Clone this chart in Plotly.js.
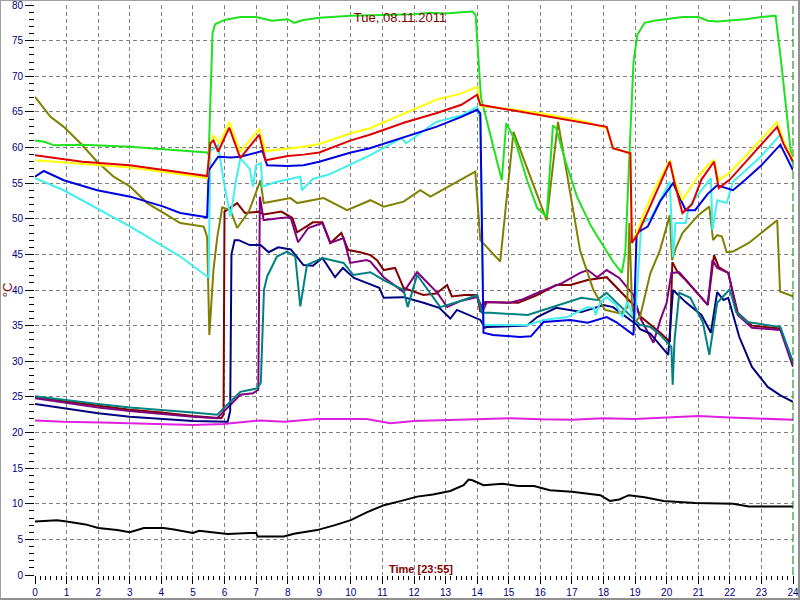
<!DOCTYPE html>
<html>
<head>
<meta charset="utf-8">
<script src="https://cdn.plot.ly/plotly-3.0.1.min.js"></script>
<style>
html,body{margin:0;padding:0;background:#fff;}
#wrap{position:relative;width:800px;height:600px;}
#chart{width:800px;height:600px;}
#frame{position:absolute;left:0;top:0;width:797px;height:597px;border-left:1px solid #a0a0a0;border-top:1px solid #a0a0a0;border-right:2px solid #909090;border-bottom:2px solid #909090;pointer-events:none;}
</style>
</head>
<body>
<div id="wrap"><div id="chart"></div><div id="frame"></div></div>
<script>
// ---- chart texts ----
const chartTitle = "Tue, 08.11.2011";
const xTitle = "Time [23:55]";
const yTitle = "°C";

// ---- series data (hour of day, temperature °C) ----
const greenT = [0,0.3,0.6,1.5,3.0,4.6,5.45,5.5,5.62,5.7,6.0,6.5,7.0,7.5,8.0,8.2,8.5,9.0,10.0,11.0,12.0,12.5,13.0,13.5,13.85,13.95,14.12,14.78,14.92,15.2,15.58,15.9,16.2,16.4,16.5,16.8,17.16,17.6,18.0,18.3,18.58,18.69,18.85,18.95,19.07,19.3,19.6,20.0,20.5,21.0,21.3,21.6,22.0,22.5,23.0,23.45,23.65,23.96];
const greenV = [61.0,60.8,60.3,60.4,60.1,59.6,59.3,59.0,76.0,77.3,77.9,78.3,78.3,77.8,78.0,77.5,77.9,78.2,78.5,78.6,78.7,78.9,78.8,79.0,79.1,78.6,67.0,55.4,63.4,61.0,55.4,51.5,50.3,63.1,62.7,58.0,53.1,49.0,46.1,44.0,42.4,45.2,62.0,72.0,75.8,77.5,77.8,78.0,78.3,78.3,77.8,77.7,77.8,78.0,78.3,78.5,71.0,58.2];

const yellowT = [0,1.5,3.0,4.5,5.45,5.55,5.65,5.85,6.15,6.5,6.8,7.1,7.3,8.0,8.5,9.0,10.0,10.6,11.0,11.7,12.7,13.5,14.0,14.1,15.0,16.0,17.0,17.5,18.1,18.3,18.85,18.9,19.05,19.3,19.6,19.9,20.1,20.25,20.5,20.7,21.0,21.3,21.5,21.65,22.0,22.5,23.0,23.5,23.7,24.0];
const yellowV = [58.2,57.7,57.2,56.3,55.7,60.5,61.7,60.6,63.6,59.4,61.0,62.6,59.5,59.8,60.1,60.5,62.0,62.7,63.5,64.8,66.7,67.6,68.5,65.8,65.4,64.8,64.0,63.5,62.7,59.9,59.2,46.6,48.0,51.0,54.0,56.5,58.2,55.5,52.6,54.0,56.0,57.5,58.2,55.4,56.5,58.8,61.2,63.6,61.0,58.2];

const redT = [0,1.5,3.0,4.5,5.45,5.55,5.65,5.8,6.15,6.5,7.1,7.3,8.0,8.5,9.0,10.0,10.6,11.7,12.7,13.5,14.0,14.1,15.0,16.0,17.0,18.1,18.3,18.85,18.9,19.1,19.4,19.7,20.1,20.25,20.5,20.8,21.1,21.5,21.65,22.0,22.5,23.0,23.5,23.7,24.0];
const redV = [58.9,58.0,57.5,56.6,56.0,60.6,61.0,59.4,62.8,58.5,61.8,58.2,58.8,59.0,59.3,61.0,61.8,63.5,64.8,66.0,67.4,66.0,65.3,64.6,63.8,62.9,59.9,59.2,46.6,48.0,51.0,54.0,58.0,55.0,50.8,52.0,55.5,58.0,54.3,55.5,58.0,60.5,62.9,60.5,58.0];

const blueT = [0,0.28,0.91,1.97,3.02,4.07,4.6,5.45,5.5,5.8,6.2,6.5,7.2,7.35,8.0,8.5,9.0,10.0,10.6,11.7,12.7,13.5,14.0,14.1,14.2,14.5,15.35,15.7,16.1,16.95,17.5,18.1,18.4,18.95,19.05,19.4,19.8,20.2,20.6,20.9,21.3,21.6,22.1,22.5,23.0,23.6,24.0];
const blueV = [55.9,56.7,55.4,54.0,53.1,51.7,50.8,50.2,56.8,58.7,58.6,58.7,59.5,57.5,57.4,57.5,58.0,59.3,59.9,61.5,62.9,64.3,65.3,64.8,34.0,33.7,33.4,33.5,35.5,35.8,35.4,36.2,35.5,33.7,48.0,48.9,52.5,55.0,51.2,51.2,53.5,54.7,54.0,55.5,57.5,60.4,56.8];

const cyanT = [0,0.91,3.02,4.6,5.45,5.5,5.55,5.8,5.97,6.19,6.35,6.5,6.8,6.9,7.0,7.15,7.2,7.35,7.66,8.0,8.4,8.45,8.8,9.3,10.3,10.6,11.6,11.75,12.7,13.5,14.0,14.1,14.2,15.3,15.6,16.1,16.85,17.5,17.7,17.75,17.9,18.1,18.4,18.6,18.75,19.0,19.2,19.5,20.1,20.2,20.28,20.6,20.7,21.4,21.45,21.6,21.9,22.1,22.5,23.0,23.6,24.0];
const cyanV = [55.7,54.0,48.9,44.7,41.9,41.8,59.5,60.3,55.4,50.3,55.0,58.5,57.0,54.5,57.5,57.8,54.5,54.7,55.2,55.5,55.9,54.0,55.6,56.2,58.2,58.9,61.3,60.6,63.6,64.5,65.7,64.0,35.1,35.1,35.1,35.8,36.2,37.6,37.5,36.5,38.3,39.0,37.9,36.2,38.3,35.8,49.4,50.1,55.2,44.6,49.4,49.4,51.7,55.7,48.4,52.6,52.2,55.2,56.8,58.8,61.8,57.8];

const oliveT = [0,0.49,0.91,1.44,1.97,2.49,3.02,3.55,4.08,4.6,5.34,5.45,5.52,5.65,5.77,5.93,6.19,6.4,6.77,7.14,7.24,8.09,8.3,9.14,9.88,10.62,11.04,11.67,12.2,12.52,13.94,14.1,14.73,15.15,16.2,16.56,17.26,17.68,18.05,18.53,18.75,18.82,18.9,19.0,19.16,19.48,19.79,20.1,20.17,20.3,20.5,21.0,21.35,21.47,21.6,21.75,21.9,22.1,22.6,23.0,23.5,23.59,24.0];
const oliveV = [67.1,64.3,62.9,60.6,58.0,55.9,54.5,52.2,50.8,49.4,48.9,47.5,33.7,42.8,47.4,51.6,51.2,48.7,51.0,55.4,52.2,52.9,52.2,52.9,51.2,52.6,51.7,52.4,54.0,53.1,56.6,47.0,44.0,62.2,49.8,63.6,45.5,40.0,37.2,36.7,37.5,49.4,38.0,35.5,36.3,42.3,45.6,50.5,44.2,46.0,48.0,50.5,51.7,47.0,47.7,47.5,45.3,45.4,46.6,48.0,49.8,39.8,39.1];

const maroonT = [0,1,2,3,4,5,5.9,5.97,6.0,6.4,6.65,7.1,7.24,7.8,8.15,8.3,8.8,9.1,9.35,9.7,9.92,10.3,10.62,10.83,11.04,11.4,11.67,12.3,12.7,13.05,13.2,13.6,14.0,14.1,14.25,15.3,15.9,16.5,16.95,17.5,18.1,18.5,19.06,19.16,19.48,19.8,20.1,20.18,20.35,20.6,21.3,21.5,21.65,21.95,22.25,22.7,23.6,24.0];
const maroonV = [24.9,24.3,23.7,23.2,22.8,22.3,22.0,22.5,51.0,52.2,50.8,51.0,50.6,51.0,50.1,48.1,49.5,49.5,46.6,48.0,45.6,45.3,44.9,44.2,42.8,43.1,40.3,39.3,39.5,40.7,39.1,39.3,39.3,36.9,38.3,38.2,39.3,40.7,40.7,41.4,41.8,40.0,37.4,36.3,35.1,34.0,32.7,43.9,42.5,41.4,37.9,44.9,43.2,42.4,36.8,35.0,34.6,29.5];

const purpleT = [0,1,2,3,4,5,5.77,6.5,6.9,7.07,7.12,7.24,7.77,8.09,8.33,8.65,9.1,9.35,9.77,9.98,10.5,10.62,11.04,11.67,12.1,12.74,13.05,13.5,14.0,14.2,14.3,15.05,15.45,15.9,16.7,17.26,17.5,17.8,18.1,18.5,18.95,19.16,19.58,19.8,20.0,20.15,20.4,21.3,21.45,21.6,21.95,22.25,22.7,23.6,24.0];
const purpleV = [24.8,24.1,23.5,23.0,22.6,22.2,22.0,25.3,25.5,26.0,53.1,49.8,50.1,50.2,46.7,48.7,49.4,46.6,47.3,43.8,44.2,44.0,41.8,39.7,42.5,39.6,37.6,38.5,39.0,37.2,38.3,38.2,38.7,39.6,41.0,42.4,42.8,41.8,42.8,41.7,39.3,36.1,32.6,35.8,38.2,42.4,42.5,37.9,44.2,43.1,42.4,36.5,34.7,34.4,29.2];

const navyT = [0,1,2,3,4,5,6.1,6.18,6.22,6.32,6.45,6.8,7.14,7.4,7.7,8.1,8.5,8.8,9.1,9.5,9.75,10.1,10.5,10.9,11.04,11.67,12.3,12.8,13.15,13.36,14.1,14.25,14.31,15.58,15.9,16.5,17.3,18.0,18.3,19.06,19.16,19.48,20.05,20.2,20.6,21.1,21.4,21.6,21.8,21.95,22.3,22.7,23.2,23.6,24.0];
const navyV = [24.0,23.3,22.7,22.2,21.9,21.6,21.5,23.0,45.0,47.0,47.0,46.3,46.3,45.3,46.0,45.7,43.5,43.4,44.5,41.8,43.1,41.7,41.0,40.3,38.9,39.0,38.2,37.5,36.0,37.2,35.8,34.7,34.8,35.0,36.2,37.5,36.9,37.9,37.6,35.1,34.5,33.9,30.9,40.0,38.3,36.5,34.0,39.7,38.6,38.9,33.4,29.2,26.4,25.2,24.3];

const tealT = [0,1,2,3,4,5,5.77,6.5,7.04,7.15,7.25,7.35,7.66,7.98,8.24,8.4,8.61,9.1,9.77,10.08,10.62,11.04,11.67,11.8,12.1,12.45,12.83,13.5,14.0,14.15,14.4,15.6,16.1,17.3,17.8,18.1,18.4,19.06,19.16,19.48,19.8,20.15,20.19,20.25,20.4,20.75,21.15,21.35,21.6,22.0,22.2,22.55,23.6,24.0];
const tealV = [25.1,24.5,24.0,23.5,23.2,22.8,22.5,25.7,26.2,27.0,40.0,41.9,44.7,45.4,44.7,37.7,43.5,44.5,43.8,42.1,42.5,41.4,40.0,37.6,42.1,40.0,37.6,38.5,39.3,36.8,36.8,36.5,37.2,38.9,38.6,39.6,38.3,35.5,35.1,34.8,33.7,32.0,26.7,33.0,39.6,38.9,35.4,30.9,38.2,40.1,36.9,35.5,34.8,29.9];

const magentaT = [0,0.9,2.1,3.0,5.0,5.97,7.14,7.9,8.93,10.5,11.25,12.0,13.15,14.3,15.05,16.0,17.0,18.0,19.0,20.0,21.0,22.0,23.0,24.0];
const magentaV = [21.7,21.5,21.4,21.3,21.05,21.2,21.7,21.5,21.9,21.9,21.3,21.6,21.75,21.9,22.0,21.85,21.8,22.0,21.9,22.1,22.3,22.1,21.9,21.8];

const blackT = [0,0.5,0.7,1.0,1.35,1.6,2.0,2.3,2.6,3.0,3.45,4.07,4.4,5.0,5.2,5.6,6.1,6.8,7.0,7.05,7.88,8.2,8.93,9.5,10.0,10.5,11.05,11.6,12.1,12.6,13.15,13.57,13.73,13.85,14.2,14.8,15.3,15.8,16.3,17.0,17.9,18.2,18.5,18.8,19.3,19.9,20.9,22.1,22.6,24.0];
const blackV = [7.5,7.6,7.7,7.5,7.3,7.1,6.6,6.5,6.3,6.0,6.6,6.6,6.4,5.9,6.2,6.0,5.75,5.9,5.9,5.4,5.4,5.8,6.3,7.0,7.7,8.8,9.8,10.4,11.0,11.3,11.8,12.6,13.4,13.3,12.6,12.8,12.5,12.5,11.9,11.7,11.2,10.4,10.6,11.2,10.9,10.4,10.1,10.0,9.6,9.6];

const xTickVals = [0,1,2,3,4,5,6,7,8,9,10,11,12,13,14,15,16,17,18,19,20,21,22,23,24];
const yTickVals = [0,5,10,15,20,25,30,35,40,45,50,55,60,65,70,75,80];

const seriesList = [
  {t: blackT,   v: blackV,   c: '#000000'},
  {t: magentaT, v: magentaV, c: '#e020e0'},
  {t: maroonT,  v: maroonV,  c: '#800000'},
  {t: purpleT,  v: purpleV,  c: '#800080'},
  {t: navyT,    v: navyV,    c: '#000080'},
  {t: tealT,    v: tealV,    c: '#008080'},
  {t: oliveT,   v: oliveV,   c: '#808000'},
  {t: cyanT,    v: cyanV,    c: '#40f0f0'},
  {t: blueT,    v: blueV,    c: '#0000e0'},
  {t: greenT,   v: greenV,   c: '#20e020'},
  {t: yellowT,  v: yellowV,  c: '#ffff00'},
  {t: redT,     v: redV,     c: '#e00000'}
];

const traces = seriesList.map(s => ({
  x: s.t, y: s.v, type: 'scatter', mode: 'lines',
  line: {color: s.c, width: 2}, hoverinfo: 'skip', showlegend: false
}));

const fontFam = '"Liberation Sans", Arial, sans-serif';
const layout = {
  width: 800, height: 600,
  margin: {l: 35, r: 7, t: 5, b: 25, pad: 0},
  paper_bgcolor: '#ffffff', plot_bgcolor: '#ffffff',
  font: {family: fontFam, size: 10, color: '#000080'},
  title: {text: chartTitle, xref: 'container', x: 0.5, xanchor: 'center',
          yref: 'container', y: 1 - 17/600, yanchor: 'middle',
          font: {family: fontFam, size: 13, color: '#800000'}},
  xaxis: {
    range: [0, 24], tickmode: 'array', tickvals: xTickVals, ticktext: xTickVals.map(String),
    ticks: 'outside', ticklen: 8, tickwidth: 1, tickcolor: '#000000',
    showgrid: true, gridcolor: '#808080', griddash: '4px,3px', gridwidth: 1,
    zeroline: false, showline: false, fixedrange: true, ticklabeloverflow: 'allow',
    tickfont: {family: fontFam, size: 10, color: '#000080'},
    minor: {dtick: 1/6, ticks: 'outside', ticklen: 4, tickcolor: '#000000', showgrid: false}
  },
  yaxis: {
    range: [0, 80], tickmode: 'array', tickvals: yTickVals, ticktext: yTickVals.map(String),
    ticks: 'outside', ticklen: 9, tickwidth: 1, tickcolor: '#000000',
    showgrid: true, gridcolor: '#808080', griddash: '4px,3px', gridwidth: 1,
    zeroline: false, showline: false, fixedrange: true, ticklabeloverflow: 'allow',
    tickfont: {family: fontFam, size: 10, color: '#000080'},
    title: {text: yTitle, standoff: 2, font: {family: fontFam, size: 13, color: '#800000'}},
    minor: {dtick: 1, ticks: 'outside', ticklen: 5, tickcolor: '#000000', showgrid: false}
  },
  annotations: [{
    text: '<b>' + xTitle + '</b>', xref: 'paper', yref: 'paper',
    x: (421 - 35) / 758, y: 6 / 570, xanchor: 'center', yanchor: 'middle',
    showarrow: false, font: {family: fontFam, size: 11, color: '#800000'}
  }],
  shapes: [{
    type: 'line', xref: 'paper', yref: 'paper', x0: 1, x1: 1, y0: 0, y1: 1,
    line: {color: '#008000', width: 1, dash: '8px,3px'}
  }]
};

Plotly.newPlot('chart', traces, layout, {staticPlot: true, displayModeBar: false});
</script>
</body>
</html>
